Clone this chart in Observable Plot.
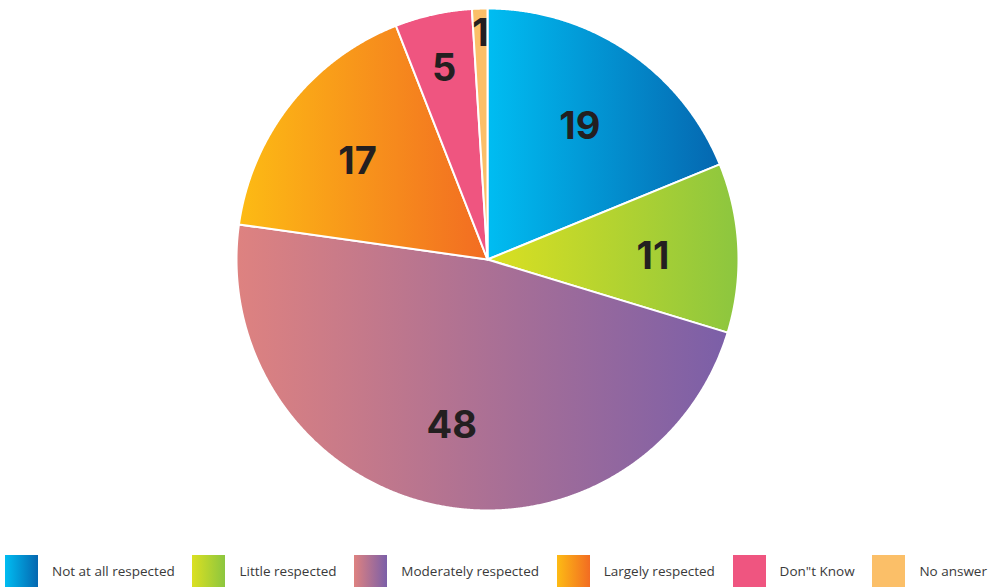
<!DOCTYPE html>
<html>
<head>
<meta charset="utf-8">
<script src="https://cdn.jsdelivr.net/npm/d3@7"></script>
<script src="https://cdn.jsdelivr.net/npm/@observablehq/plot@0.6"></script>
<style>
  html, body { margin: 0; padding: 0; background: #fff; }
  #chart svg { display: block; }
  #legend { display: flex; justify-content: space-between; align-items: center; height: 32px; padding: 0 8px 0 5px; font-family: "Open Sans", sans-serif; font-size: 13.5px; color: #3a3a3a; }
  .item { display: flex; align-items: center; }
  .sw { width: 33px; height: 32px; margin-right: 14px; }
</style>
</head>
<body>
<div id="chart"></div>
<div id="legend"></div>
<script>
const categories = ["Not at all respected", "Little respected", "Moderately respected", "Largely respected", "Don\"t Know", "No answer"];
const values = [19, 11, 48, 17, 5, 1];
const colorStart = ["#00bdf2", "#dbe021", "#de8280", "#fdbb14", "#ef5580", "#fbbf68"];
const colorEnd   = ["#0567b0", "#8cc63f", "#7b5fa8", "#f26c22", "#ef5580", "#fbbf68"];

const W = 995, H = 555;
const arcs = d3.pie().sort(null).value(d => d)(values);

function slicePoints(a) {
  const pts = [{x: 0, y: 0}];
  const n = Math.max(4, Math.ceil((a.endAngle - a.startAngle) / (Math.PI / 720)));
  for (let i = 0; i <= n; i++) {
    const t = a.startAngle + (a.endAngle - a.startAngle) * i / n;
    pts.push({x: Math.sin(t), y: Math.cos(t)});
  }
  pts.push({x: 0, y: 0});
  return pts;
}

const labels = arcs.map((a, i) => {
  const m = (a.startAngle + a.endAngle) / 2;
  const r = Math.max(0.66, 0.95 - 0.03 * values[i]);
  return {x: r * Math.sin(m), y: r * Math.cos(m), text: String(values[i])};
});

const marks = arcs.map((a, i) => Plot.line(slicePoints(a), {
  x: "x", y: "y", fill: `url(#grad${i})`, stroke: "white", strokeWidth: 2, strokeLinejoin: "round", curve: "linear"
}));
marks.push(Plot.text(labels, {
  x: "x", y: "y", text: "text", fontSize: 38, fontWeight: 700, fill: "#231f20",
  fontFamily: "Inter, sans-serif", dy: 5
}));

const svg = Plot.plot({
  width: W, height: H,
  marginLeft: 236, marginRight: 257, marginTop: 8, marginBottom: 45,
  x: {domain: [-1, 1], axis: null},
  y: {domain: [-1, 1], axis: null},
  marks
});

const defs = d3.select(svg).insert("defs", ":first-child");
categories.forEach((c, i) => {
  const g = defs.append("linearGradient").attr("id", `grad${i}`).attr("x1", 0).attr("x2", 1).attr("y1", 0).attr("y2", 0);
  g.append("stop").attr("offset", "0%").attr("stop-color", colorStart[i]);
  g.append("stop").attr("offset", "100%").attr("stop-color", colorEnd[i]);
});
document.getElementById("chart").appendChild(svg);

const legend = d3.select("#legend");
categories.forEach((c, i) => {
  const it = legend.append("div").attr("class", "item");
  it.append("div").attr("class", "sw").style("background", `linear-gradient(to right, ${colorStart[i]}, ${colorEnd[i]})`);
  it.append("span").text(c);
});
</script>
</body>
</html>
